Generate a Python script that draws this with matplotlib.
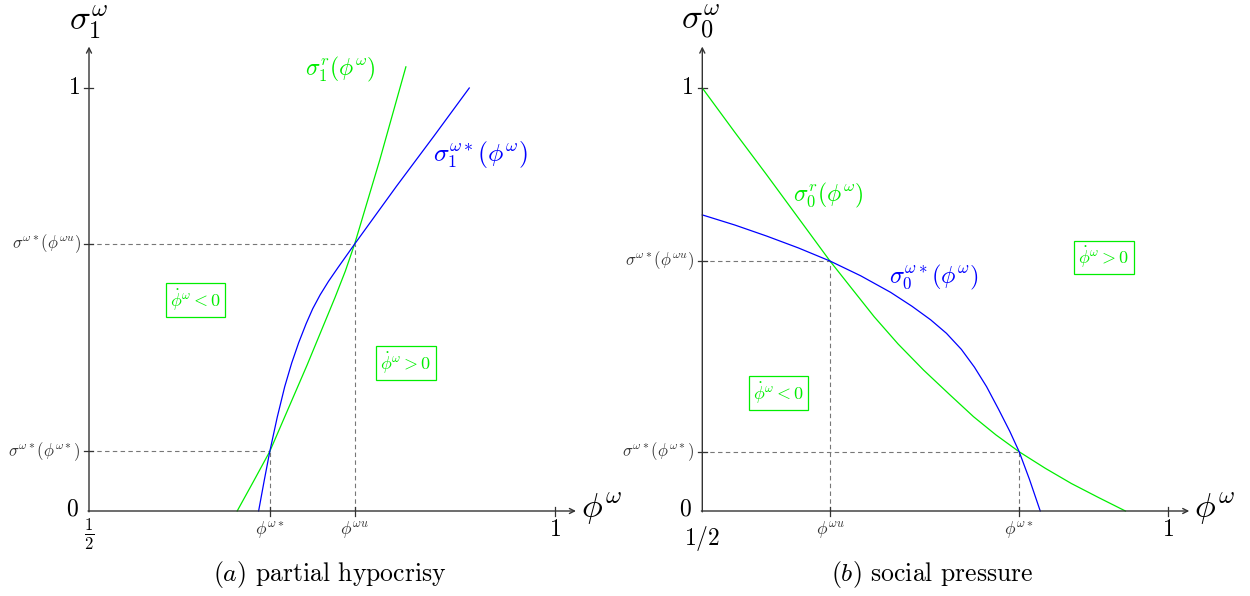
import matplotlib
matplotlib.use("Agg")
import matplotlib.pyplot as plt

plt.rcParams['mathtext.fontset'] = 'cm'
plt.rcParams['font.family'] = ['cmr10', 'DejaVu Serif']
plt.rcParams['axes.unicode_minus'] = False

# ---------------- data ----------------
# panel (a) partial hypocrisy
a_green_x = [0.659, 0.676, 0.694, 0.714, 0.734, 0.749, 0.764, 0.775, 0.785, 0.812, 0.840]
a_green_y = [0.0, 0.068, 0.141, 0.243, 0.345, 0.425, 0.505, 0.567, 0.631, 0.830, 1.050]
a_blue_x = [0.682, 0.688, 0.694, 0.702, 0.710, 0.7175, 0.725, 0.733, 0.740, 0.748,
            0.757, 0.767, 0.785, 0.830, 0.870, 0.908]
a_blue_y = [0.0, 0.072, 0.141, 0.222, 0.294, 0.350, 0.398, 0.443, 0.478, 0.511,
            0.543, 0.575, 0.631, 0.768, 0.886, 1.0]
a_phi_star, a_phi_u = 0.694, 0.785
a_sig_star, a_sig_u = 0.141, 0.631

# panel (b) social pressure
b_green_x = [0.5, 0.535, 0.569, 0.603, 0.637, 0.660, 0.6845, 0.710, 0.7375, 0.765,
             0.791, 0.815, 0.840, 0.868, 0.896, 0.925, 0.954]
b_green_y = [1.0, 0.895, 0.795, 0.693, 0.591, 0.527, 0.459, 0.395, 0.333, 0.276,
             0.223, 0.180, 0.140, 0.101, 0.065, 0.032, 0.0]
b_blue_x = [0.5, 0.535, 0.569, 0.603, 0.637, 0.670, 0.702, 0.725, 0.745, 0.762,
            0.778, 0.792, 0.805, 0.818, 0.830, 0.840, 0.851, 0.8626]
b_blue_y = [0.700, 0.676, 0.650, 0.622, 0.591, 0.556, 0.517, 0.484, 0.452, 0.420,
            0.382, 0.340, 0.294, 0.240, 0.188, 0.140, 0.075, 0.0]
b_phi_u, b_phi_star = 0.637, 0.840
b_sig_u, b_sig_star = 0.591, 0.140

GREEN = '#00ee00'
BLUE = '#0000ff'
AXC = '#333333'
DASHC = '#777777'

fig = plt.figure(figsize=(12.5, 5.96), dpi=100)

XS = 932.0   # px per x unit
YS = 423.0   # px per y unit
Y0 = 511.0   # px of y=0 (from top)


def make_axes(left_px, width_px, orig_px):
    ax = fig.add_axes([left_px / 1250, 0, width_px / 1250, 1])
    x0 = 0.5 - (orig_px - left_px) / XS
    x1 = 0.5 + (left_px + width_px - orig_px) / XS
    ax.set_xlim(x0, x1)
    ax.set_ylim((Y0 - 596) / YS, Y0 / YS)
    ax.axis('off')
    return ax


def draw_frame(ax, xtick_half, half_y):
    ax.annotate('', xy=(1.0225, 0), xytext=(0.499, 0),
                arrowprops=dict(arrowstyle='->', lw=1.0, color=AXC,
                                shrinkA=0, shrinkB=0, mutation_scale=9))
    ax.annotate('', xy=(0.5, 1.098), xytext=(0.5, -0.002),
                arrowprops=dict(arrowstyle='->', lw=1.0, color=AXC,
                                shrinkA=0, shrinkB=0, mutation_scale=9))
    tx = 4.5 / XS
    ty = 4.5 / YS
    ax.plot([0.5 - tx, 0.5 + tx], [1, 1], color=AXC, lw=0.9)
    ax.plot([1, 1], [-ty, ty], color=AXC, lw=0.9)
    ax.text(0.5 - 9 / XS, 1, '$1$', ha='right', va='center', fontsize=17)
    ax.text(0.5 - 10 / XS, 0.004, '$0$', ha='right', va='center', fontsize=17)
    ax.text(1.0, -0.018, '$1$', ha='center', va='top', fontsize=17)
    ax.text(0.5, half_y, xtick_half, ha='center', va='top', fontsize=17)


def draw_point(ax, px, py, xlab, ylab):
    tx = 4.5 / XS
    ty = 4.5 / YS
    ax.plot([0.5, px], [py, py], color=DASHC, lw=0.8, dashes=(4, 3))
    ax.plot([px, px], [0, py], color=DASHC, lw=0.8, dashes=(4, 3))
    ax.plot([px, px], [-ty, ty], color=AXC, lw=0.9)
    ax.plot([0.5 - tx, 0.5 + tx], [py, py], color=AXC, lw=0.9)
    ax.text(px, -0.02, xlab, ha='center', va='top', fontsize=12.5, color='#333333')
    ax.text(0.5 - 8 / XS, py, ylab, ha='right', va='center', fontsize=12, color='#333333')


def box(ax, x, y, s):
    ax.text(x, y, s, ha='center', va='center', fontsize=13, color=GREEN,
            bbox=dict(boxstyle='square,pad=0.22', fc='white', ec=GREEN, lw=0.9))


# ---------------- panel (a) ----------------
axa = make_axes(0, 625, 89)
draw_frame(axa, r'$\frac{1}{2}$', -0.014)
draw_point(axa, a_phi_star, a_sig_star, r'$\phi^{\omega*}$', r'$\sigma^{\omega*}(\phi^{\omega*})$')
draw_point(axa, a_phi_u, a_sig_u, r'$\phi^{\omega u}$', r'$\sigma^{\omega*}(\phi^{\omega u})$')
axa.plot(a_green_x, a_green_y, color=GREEN, lw=0.9)
axa.plot(a_blue_x, a_blue_y, color=BLUE, lw=0.9)
axa.text(0.499, 1.156, r'$\sigma_1^{\omega}$', ha='center', va='center', fontsize=25)
axa.text(1.028, 0.005, r'$\phi^{\omega}$', ha='left', va='center', fontsize=25)
axa.text(0.770, 1.043, r'$\sigma_1^{r}(\phi^{\omega})$', ha='center', va='center', fontsize=17, color=GREEN)
axa.text(0.9195, 0.842, r'$\sigma_1^{\omega*}(\phi^{\omega})$', ha='center', va='center', fontsize=18.5, color=BLUE)
box(axa, 0.614, 0.499, r'$\dot{\phi}^{\omega} < 0$')
box(axa, 0.840, 0.350, r'$\dot{\phi}^{\omega} > 0$')

# ---------------- panel (b) ----------------
axb = make_axes(625, 625, 702.3)
draw_frame(axb, r'$1/2$', -0.030)
draw_point(axb, b_phi_u, b_sig_u, r'$\phi^{\omega u}$', r'$\sigma^{\omega*}(\phi^{\omega u})$')
draw_point(axb, b_phi_star, b_sig_star, r'$\phi^{\omega*}$', r'$\sigma^{\omega*}(\phi^{\omega*})$')
axb.plot(b_green_x, b_green_y, color=GREEN, lw=0.9)
axb.plot(b_blue_x, b_blue_y, color=BLUE, lw=0.9)
axb.text(0.498, 1.156, r'$\sigma_0^{\omega}$', ha='center', va='center', fontsize=25)
axb.text(1.028, 0.005, r'$\phi^{\omega}$', ha='left', va='center', fontsize=25)
axb.text(0.635, 0.747, r'$\sigma_0^{r}(\phi^{\omega})$', ha='center', va='center', fontsize=17, color=GREEN)
axb.text(0.749, 0.551, r'$\sigma_0^{\omega*}(\phi^{\omega})$', ha='center', va='center', fontsize=17.5, color=BLUE)
box(axb, 0.931, 0.600, r'$\dot{\phi}^{\omega} > 0$')
box(axb, 0.582, 0.279, r'$\dot{\phi}^{\omega} < 0$')

# captions
fig.text(330 / 1250, 1 - 575 / 596, r'$(a)$ partial hypocrisy', ha='center', va='center', fontsize=18.5)
fig.text(932 / 1250, 1 - 575 / 596, r'$(b)$ social pressure', ha='center', va='center', fontsize=18.5)

fig.savefig('out.png', dpi=100)
